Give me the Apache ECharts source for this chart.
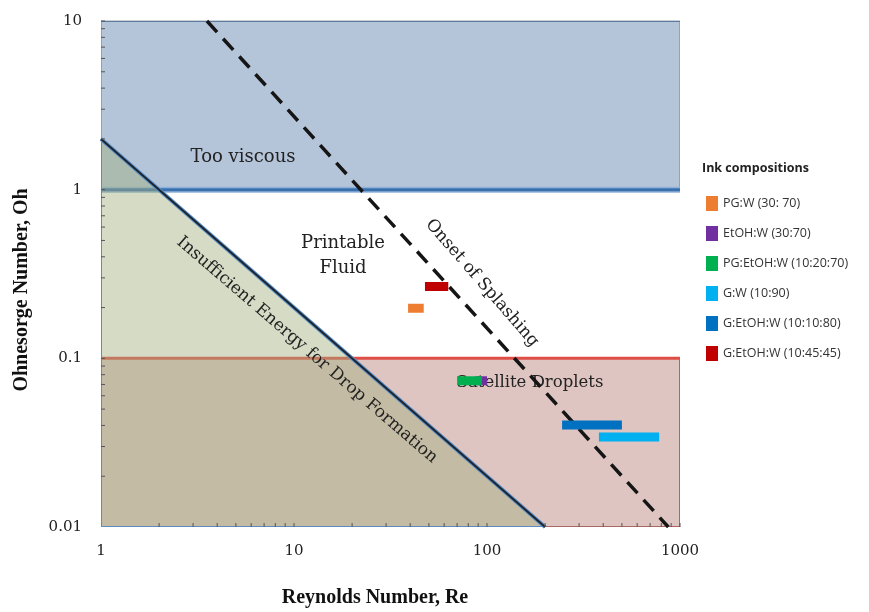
<!DOCTYPE html>
<html>
<head>
<meta charset="utf-8">
<script src="https://cdn.jsdelivr.net/npm/echarts@6/dist/echarts.min.js"></script>
<style>html,body{margin:0;padding:0;background:#fff}#c{width:869px;height:612px}</style>
</head>
<body>
<div id="c"></div>
<script>
// ---- data ----
const xTickLabels = [1, 10, 100, 1000];
const yTickLabels = [0.01, 0.1, 1, 10];
const inkNames = ['PG:W (30: 70)', 'EtOH:W (30:70)', 'PG:EtOH:W (10:20:70)', 'G:W (10:90)', 'G:EtOH:W (10:10:80)', 'G:EtOH:W (10:45:45)'];
const inkOh      = [0.198, 0.0737, 0.0737, 0.0342, 0.0403, 0.267];
const inkReStart = [39, 87, 70, 380, 245, 47.7];
const inkReEnd   = [47, 100, 94, 780, 500, 63];
const reRange = [1, 1000];
const ohRange = [0.01, 10];
const tooViscousOh = [1, 10];
const satelliteOh = [0.01, 0.1];
const energyLine = [[1, 2], [200, 0.01]];
const splashLine = [[3.54, 10], [870, 0.01]];

// ---- styles ----
const inkColors = ['#ed7d31', '#7030a0', '#00b050', '#00b0f0', '#0070c0', '#c00000'];

function polySeries(points, style, z) {
  return {
    type: 'custom', coordinateSystem: 'cartesian2d', silent: true, z: z,
    data: [[1, 1]], clip: true,
    renderItem: function (p, api) {
      return { type: 'polygon', shape: { points: points.map(pt => api.coord(pt)) }, style: style };
    }
  };
}
function lineSeries(data, style, z, name) {
  return {
    type: 'line', name: name, data: data, z: z, silent: true, symbol: 'none', showSymbol: false,
    lineStyle: style, itemStyle: { color: style.color }, animation: false
  };
}

// minor tick positions generated per decade
const xMinor = [];
for (const d of [1, 10, 100]) for (let k = 2; k <= 10; k++) xMinor.push(k * d);
const yMinor = [];
for (const d of [0.01, 0.1, 1]) for (let k = 2; k <= 10; k++) yMinor.push(+(k * d).toPrecision(3));

const series = [];
// satellite region
series.push(polySeries([[reRange[0], satelliteOh[0]], [reRange[1], satelliteOh[0]], [reRange[1], satelliteOh[1]], [reRange[0], satelliteOh[1]]],
  { fill: '#dfc5c1', stroke: '#9a4a44', lineWidth: 1.5 }, 1));
// Oh = 0.1 red line
series.push(lineSeries([[reRange[0], satelliteOh[1]], [reRange[1], satelliteOh[1]]], { color: '#de4e46', width: 3 }, 2));
// too viscous region
series.push(polySeries([[reRange[0], tooViscousOh[0]], [reRange[1], tooViscousOh[0]], [reRange[1], tooViscousOh[1]], [reRange[0], tooViscousOh[1]]],
  { fill: '#b5c5d9', stroke: '#7ea6d0', lineWidth: 2 }, 3));
// top dark border
series.push(lineSeries([[reRange[0], ohRange[1]], [reRange[1], ohRange[1]]], { color: '#3a4e66', width: 1 }, 4));
// Oh = 1 blue line
series.push(lineSeries([[reRange[0], tooViscousOh[0]], [reRange[1], tooViscousOh[0]]], { color: '#8fb2d8', width: 6 }, 4));
series.push(lineSeries([[reRange[0], tooViscousOh[0]], [reRange[1], tooViscousOh[0]]], { color: '#3b70ae', width: 3 }, 4));
// insufficient energy triangle
series.push(polySeries([energyLine[0], energyLine[1], [reRange[0], ohRange[0]]],
  { fill: 'rgba(161,175,126,0.45)', stroke: '#5d8cc0', lineWidth: 2 }, 5));
series.push(lineSeries(energyLine, { color: '#5b8fc7', width: 4 }, 6));
series.push(lineSeries(energyLine, { color: '#1c2633', width: 2 }, 6));
// splashing dashed line
series.push(lineSeries(splashLine, { color: '#151515', width: 3.5, type: [15, 9] }, 7));
// minor ticks
series.push({
  type: 'custom', coordinateSystem: 'cartesian2d', silent: true, z: 8,
  data: xMinor.map(v => [v, ohRange[0]]),
  renderItem: function (p, api) {
    const c = api.coord([api.value(0), api.value(1)]);
    return { type: 'line', shape: { x1: c[0], y1: c[1], x2: c[0], y2: c[1] - 4 }, style: { stroke: '#555', lineWidth: 1 } };
  }
});
series.push({
  type: 'custom', coordinateSystem: 'cartesian2d', silent: true, z: 8,
  data: yMinor.map(v => [reRange[0], v]),
  renderItem: function (p, api) {
    const c = api.coord([api.value(0), api.value(1)]);
    return { type: 'line', shape: { x1: c[0], y1: c[1], x2: c[0] + 4, y2: c[1] }, style: { stroke: '#555', lineWidth: 1 } };
  }
});
// ink bars
inkNames.forEach((n, i) => {
  series.push({
    type: 'line', name: n, z: 10, symbol: 'none', showSymbol: false,
    data: [[inkReStart[i], inkOh[i]], [inkReEnd[i], inkOh[i]]],
    lineStyle: { color: inkColors[i], width: 9, cap: 'butt' },
    itemStyle: { color: inkColors[i] }
  });
});

const chart = echarts.init(document.getElementById('c'), null, { renderer: 'canvas' });
chart.setOption({
  animation: false,
  backgroundColor: '#fff',
  grid: { left: 101, right: 189, top: 21, bottom: 85 },
  xAxis: {
    type: 'log', logBase: 10, min: reRange[0], max: reRange[1],
    axisLine: { show: false }, axisTick: { show: false }, splitLine: { show: false },
    axisLabel: { margin: 17, fontFamily: 'DejaVu Serif', fontSize: 15, color: '#222',
      formatter: v => (xTickLabels.indexOf(v) >= 0 ? String(v) : '') }
  },
  yAxis: {
    type: 'log', logBase: 10, min: ohRange[0], max: ohRange[1],
    axisLine: { show: false }, axisTick: { show: false }, splitLine: { show: false },
    axisLabel: { margin: 19, fontFamily: 'DejaVu Serif', fontSize: 15, color: '#222',
      formatter: v => { const m = yTickLabels.find(t => Math.abs(t - v) / t < 1e-6); return m === undefined ? '' : String(m); } }
  },
  legend: {
    data: inkNames, orient: 'vertical', left: 701, top: 191, icon: 'rect',
    itemWidth: 12, itemHeight: 15, itemGap: 15,
    textStyle: { fontFamily: 'Open Sans', fontSize: 12.5, color: '#333' },
    selectedMode: false
  },
  graphic: [
    { type: 'text', left: 702, top: 162, style: { text: 'Ink compositions', font: 'bold 12.5px "Open Sans"', fill: '#222' } },
    { type: 'text', x: 243, y: 157, style: { text: 'Too viscous', font: '18px "DejaVu Serif"', fill: '#222', align: 'center', verticalAlign: 'middle' }, z: 100 },
    { type: 'text', x: 343, y: 256, style: { text: 'Printable\nFluid', font: '18px "DejaVu Serif"', fill: '#222', align: 'center', verticalAlign: 'middle', lineHeight: 25 }, z: 100 },
    { type: 'text', x: 530, y: 383, style: { text: 'Satellite Droplets', font: '16.5px "DejaVu Serif"', fill: '#222', align: 'center', verticalAlign: 'middle' }, z: 5 },
    { type: 'text', x: 307, y: 350, rotation: -0.71, style: { text: 'Insufficient Energy for Drop Formation', font: '17px "DejaVu Serif"', fill: '#222', align: 'center', verticalAlign: 'middle' }, z: 100 },
    { type: 'text', x: 482, y: 283, rotation: -0.855, style: { text: 'Onset of Splashing', font: '17px "DejaVu Serif"', fill: '#222', align: 'center', verticalAlign: 'middle' }, z: 100 },
    { type: 'text', x: 375, y: 598, style: { text: 'Reynolds Number, Re', font: 'bold 20px "Liberation Serif"', fill: '#111', align: 'center', verticalAlign: 'middle' } },
    { type: 'text', x: 22, y: 290, rotation: Math.PI / 2, style: { text: 'Ohnesorge Number, Oh', font: 'bold 20px "Liberation Serif"', fill: '#111', align: 'center', verticalAlign: 'middle' } }
  ],
  series: series
});
</script>
</body>
</html>
